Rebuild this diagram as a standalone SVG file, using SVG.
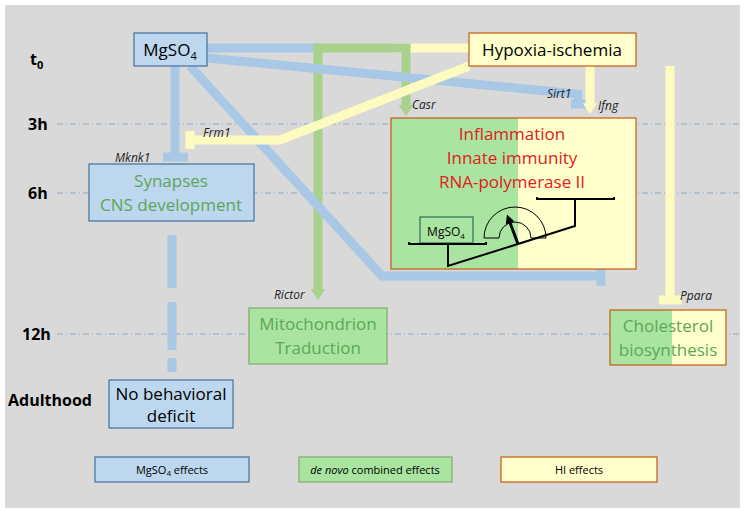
<svg xmlns="http://www.w3.org/2000/svg" width="745" height="513" viewBox="0 0 745 513">
<style>
text{font-family:"Open Sans","Liberation Sans",sans-serif}
.t{font-weight:bold;font-size:16px;fill:#000}
.g{font-style:italic;font-size:12px;fill:#222}
.grid{stroke:#8fa9c4;stroke-width:1;stroke-dasharray:6 3 1 3}
.b{stroke:#a9c8e6;stroke-width:9;fill:none}
.y{stroke:#fdfbc0;stroke-width:9;fill:none}
.gr{stroke:#a9d18e;stroke-width:9;fill:none}
.bb{fill:#bdd7ee;stroke:#41719c;stroke-width:1.2}
.yb{fill:#ffffcc;stroke:#c55a11;stroke-width:1.2}
.gb{fill:#a9e5a0;stroke:#82a86a;stroke-width:1.2}
.gt{fill:#5da65a;font-size:17px}
.rt{fill:#e02020;font-size:17px}
</style>
<defs>
<marker id="ag" markerWidth="1.6" markerHeight="1.6" refX="0.3" refY="0.8" orient="auto" markerUnits="strokeWidth"><path d="M0,0 L1.2,0.8 L0,1.6Z" fill="#a9d18e"/></marker>
<marker id="ay" markerWidth="1.6" markerHeight="1.6" refX="0.3" refY="0.8" orient="auto" markerUnits="strokeWidth"><path d="M0,0 L1.2,0.8 L0,1.6Z" fill="#fdfbc0"/></marker>
<marker id="ak" markerWidth="3" markerHeight="3" refX="1" refY="1.5" orient="auto" markerUnits="strokeWidth"><path d="M0,0 L3,1.5 L0,3Z" fill="#000"/></marker>
</defs>
<rect x="5" y="5" width="735" height="503" fill="#d9d9d9"/>
<g id="timeline">
<text class="t" x="30" y="65">t<tspan font-size="11" dy="4">0</tspan></text>
<text class="t" x="28" y="130">3h</text>
<text class="t" x="28" y="199">6h</text>
<text class="t" x="22" y="340">12h</text>
<text class="t" x="8" y="406">Adulthood</text>
<line class="grid" x1="57" y1="124" x2="740" y2="124"/>
<line class="grid" x1="57" y1="193" x2="740" y2="193"/>
<line class="grid" x1="57" y1="334" x2="740" y2="334"/>
</g>
<g id="connectors">
<path class="b" d="M207,48 H320"/>
<path class="y" d="M390,48 H469"/>
<path class="gr" d="M318,52 V48 H406 V108" marker-end="url(#ag)"/>
<path class="gr" d="M318,48 V292" marker-end="url(#ag)"/>
<path class="b" d="M207,58 L578,94 V104"/>
<path class="b" d="M571,104 H586" stroke-width="5"/>
<path class="b" d="M175,66 V155"/>
<path class="b" d="M163,157 H188" stroke-width="5"/>
<path class="b" d="M190,66 L382,276 H600"/>
<path class="b" d="M601,266 V286" stroke-width="5"/>
<path class="b" d="M172,235 V288 M172,302 V350 M172,358 V372"/>
<path class="y" d="M469,66 L280,140 H190"/>
<path class="y" d="M190,131 V149" stroke-width="5"/>
<path class="y" d="M590,66 V106" marker-end="url(#ay)"/>
<path class="y" d="M670,66 V298"/>
<path class="y" d="M659,300 H682" stroke-width="5"/>
<text class="g" x="203" y="137">Frm1</text>
<text class="g" x="115" y="162">Mknk1</text>
<text class="g" x="412" y="109">Casr</text>
<text class="g" x="547" y="98">Sirt1</text>
<text class="g" x="598" y="110">Ifng</text>
<text class="g" x="274" y="299">Rictor</text>
<text class="g" x="680" y="300">Ppara</text>
</g>
<g id="mgso4"><rect class="bb" x="134" y="33" width="73" height="33"/><text x="170" y="56" text-anchor="middle" font-size="17">MgSO<tspan font-size="11" dy="4">4</tspan></text></g>
<g id="hi"><rect class="yb" x="469" y="33" width="167" height="33"/><text x="552" y="56" text-anchor="middle" font-size="17">Hypoxia-ischemia</text></g>
<g id="synapses"><rect class="bb" x="89" y="164" width="165" height="57"/><text class="gt" x="171" y="187" text-anchor="middle">Synapses</text><text class="gt" x="171" y="211" text-anchor="middle">CNS development</text></g>
<g id="inflammation">
<rect x="391" y="118" width="127" height="151" fill="#a9e5a0"/>
<rect x="518" y="118" width="118" height="151" fill="#ffffcc"/>
<rect x="391" y="118" width="245" height="151" fill="none" stroke="#c55a11" stroke-width="1.2"/>
<text class="rt" x="512" y="140" text-anchor="middle">Inflammation</text>
<text class="rt" x="512" y="164" text-anchor="middle">Innate immunity</text>
<text class="rt" x="512" y="188" text-anchor="middle">RNA-polymerase II</text>
<rect x="420" y="217" width="53" height="26" fill="#a9e5a0" stroke="#2e6b5e" stroke-width="1.2"/>
<text x="446" y="236" text-anchor="middle" font-size="12">MgSO<tspan font-size="8" dy="3">4</tspan></text>
<path d="M409,242 V244 H486 V242 M448,244 V266 L575,226 V199 M537,197 V199 H614 V197" fill="none" stroke="#000" stroke-width="2"/>
<path d="M484,238 A31,31 0 0 1 546,238 H531 A16,16 0 0 0 499,238 Z" fill="none" stroke="#000" stroke-width="1"/>
<line x1="518" y1="244" x2="509" y2="220" stroke="#000" stroke-width="3" marker-end="url(#ak)"/>
</g>
<g id="mito"><rect class="gb" x="249" y="308" width="138" height="56"/><text class="gt" x="318" y="330" text-anchor="middle">Mitochondrion</text><text class="gt" x="318" y="354" text-anchor="middle">Traduction</text></g>
<g id="chol">
<rect x="610" y="310" width="62" height="55" fill="#a9e5a0"/><rect x="672" y="310" width="54" height="55" fill="#ffffcc"/>
<rect x="610" y="310" width="116" height="55" fill="none" stroke="#c55a11" stroke-width="1.2"/>
<text class="gt" x="668" y="332" text-anchor="middle">Cholesterol</text><text class="gt" x="668" y="356" text-anchor="middle">biosynthesis</text></g>
<g id="nodeficit"><rect class="bb" x="109" y="380" width="124" height="48"/><text x="171" y="400" text-anchor="middle" font-size="17">No behavioral</text><text x="171" y="422" text-anchor="middle" font-size="17">deficit</text></g>
<g id="legend">
<rect class="bb" x="95" y="457" width="154" height="25"/><text x="172" y="474" text-anchor="middle" font-size="11">MgSO<tspan font-size="8" dy="2">4</tspan><tspan dy="-2"> effects</tspan></text>
<rect class="gb" x="299" y="457" width="153" height="25"/><text x="375" y="474" text-anchor="middle" font-size="11"><tspan font-style="italic">de novo</tspan> combined effects</text>
<rect class="yb" x="501" y="457" width="156" height="25"/><text x="579" y="474" text-anchor="middle" font-size="11">HI effects</text>
</g>
</svg>
